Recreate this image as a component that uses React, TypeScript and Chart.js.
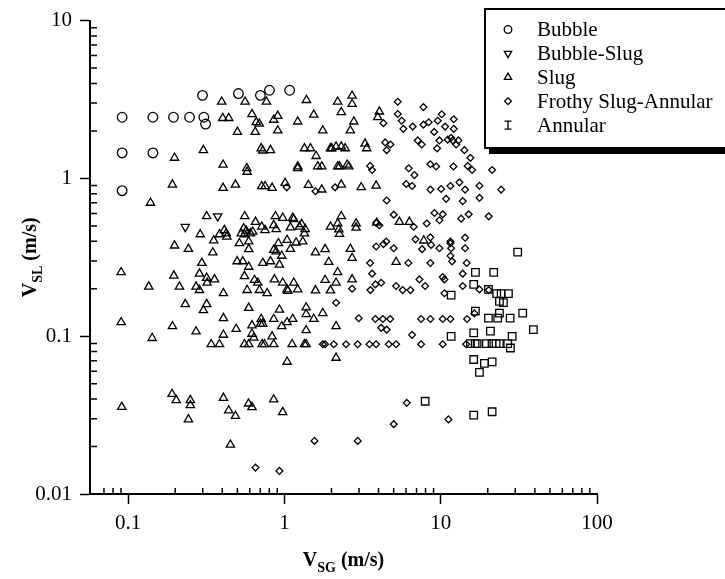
import React, { useEffect, useRef } from 'react';
import { Chart, registerables } from 'chart.js';

Chart.register(...registerables);

const SERIF = "'Liberation Serif', 'Times New Roman', serif";

// ---- series names and legend symbols ----
const seriesNames = ['Bubble', 'Bubble-Slug', 'Slug', 'Frothy Slug-Annular', 'Annular'];
const legendSymbols = ['circle', 'triangleDown', 'triangle', 'diamond', 'ibeam'];

// ---- axis ranges / tick labels ----
const xMin = 0.057;
const xMax = 100;
const yMin = 0.01;
const yMax = 10;
const xMajor = [0.1, 1, 10, 100];
const xMajorLabels = ['0.1', '1', '10', '100'];
const yMajor = [0.01, 0.1, 1, 10];
const yMajorLabels = ['0.01', '0.1', '1', '10'];

// ---- data: superficial gas velocity (VSG) and liquid velocity (VSL), m/s ----
const bubbleVsg = [0.0915, 0.144, 0.195, 0.247, 0.305, 0.313, 0.299, 0.508, 0.702, 0.802, 1.08, 0.0915, 0.144, 0.0915];
const bubbleVsl = [2.44, 2.44, 2.44, 2.44, 2.44, 2.21, 3.36, 3.45, 3.36, 3.62, 3.62, 1.45, 1.45, 0.836];

const bubbleSlugVsg = [0.232, 0.374];
const bubbleSlugVsl = [0.493, 0.575];

const slugVsg = [
  0.397, 0.56, 0.767, 1.383, 0.403, 0.44, 0.62, 0.66, 0.69, 0.854,
  0.906, 1.216, 0.5, 0.65, 0.906, 0.303, 0.71, 0.727, 0.814, 1.343,
  0.198, 0.405, 0.574, 0.577, 1.216, 1.216, 0.192, 0.405, 0.486, 0.716,
  0.752, 0.834, 1.01, 1.424, 0.139, 2.19, 2.71, 2.71, 1.54, 2.31,
  1.76, 2.78, 2.64, 4.05, 3.95, 1.467, 1.595, 1.97, 2.01, 2.14,
  2.31, 2.445, 3.28, 3.36, 1.633, 1.733, 2.19, 2.25, 2.52, 2.58,
  1.733, 2.31, 3.1, 3.86, 0.318, 0.557, 0.653, 0.716, 0.752, 0.876,
  0.854, 0.885, 0.975, 1.13, 1.147, 1.29, 1.092, 1.247, 1.357, 1.343,
  0.413, 0.424, 0.384, 0.428, 0.289, 0.549, 0.569, 0.529, 0.555, 0.606,
  0.627, 0.515, 0.591, 0.591, 0.353, 0.198, 0.243, 0.348, 0.915, 0.854,
  0.885, 0.961, 1.04, 1.092, 1.188, 1.31, 0.296, 0.498, 0.541, 0.591,
  0.727, 0.814, 0.929, 0.0902, 0.196, 0.286, 0.318, 0.32, 0.357, 0.555,
  0.643, 0.675, 0.863, 0.975, 1.05, 1.04, 1.147, 1.216, 0.1355, 0.213,
  0.272, 0.286, 0.407, 0.577, 0.692, 0.775, 0.232, 0.318, 0.303, 0.591,
  0.929, 1.377, 1.377, 0.0902, 0.192, 0.272, 0.407, 0.491, 0.62, 0.71,
  0.702, 0.727, 0.854, 0.961, 1.04, 1.13, 1.377, 0.1425, 0.407, 0.62,
  0.637, 0.834, 0.34, 0.384, 0.555, 0.591, 0.72, 0.745, 0.854, 1.12,
  1.343, 1.377, 1.04, 2.31, 2.19, 1.97, 2.23, 2.25, 2.875, 2.875,
  3.895, 5.44, 6.3, 1.58, 1.82, 1.92, 2.64, 2.71, 5.185, 7.785,
  2.19, 1.82, 2.14, 2.71, 1.58, 1.97, 1.54, 1.76, 2.14, 2.14,
  0.091, 0.191, 0.203, 0.25, 0.25, 0.243, 0.407, 0.44, 0.486, 0.451,
  0.589, 0.62, 0.854, 0.975,
];
const slugVsl = [
  3.06, 3.06, 3.06, 3.135, 2.41, 2.41, 2.55, 2.27, 2.22, 2.35,
  2.49, 2.29, 1.97, 1.97, 2.01, 1.51, 1.55, 1.5, 1.51, 1.55,
  1.35, 1.22, 1.16, 1.1, 1.19, 1.16, 0.912, 0.87, 0.912, 0.891,
  0.891, 0.87, 0.935, 0.908, 0.7, 3.06, 3.34, 2.96, 2.53, 2.63,
  2.01, 2.29, 2.01, 2.65, 2.44, 1.55, 1.385, 1.55, 1.55, 1.59,
  1.59, 1.55, 1.66, 1.55, 1.19, 1.19, 1.19, 1.19, 1.22, 1.19,
  0.849, 0.912, 0.878, 0.899, 0.575, 0.575, 0.53, 0.494, 0.47, 0.575,
  0.505, 0.477, 0.562, 0.562, 0.551, 0.513, 0.489, 0.494, 0.477, 0.448,
  0.47, 0.448, 0.442, 0.427, 0.442, 0.482, 0.466, 0.448, 0.442, 0.448,
  0.459, 0.388, 0.398, 0.356, 0.404, 0.375, 0.357, 0.339, 0.388, 0.352,
  0.344, 0.323, 0.407, 0.357, 0.392, 0.398, 0.291, 0.298, 0.298, 0.275,
  0.291, 0.298, 0.284, 0.254, 0.242, 0.249, 0.234, 0.218, 0.229, 0.24,
  0.227, 0.218, 0.229, 0.218, 0.1935, 0.198, 0.218, 0.198, 0.206, 0.206,
  0.206, 0.196, 0.187, 0.196, 0.196, 0.187, 0.1595, 0.1595, 0.146, 0.151,
  0.147, 0.152, 0.138, 0.1225, 0.1156, 0.107, 0.13, 0.111, 0.117, 0.1285,
  0.1196, 0.1196, 0.1285, 0.1156, 0.1225, 0.1285, 0.109, 0.0973, 0.102, 0.1035,
  0.0977, 0.0997, 0.0889, 0.0889, 0.0889, 0.0889, 0.0889, 0.0889, 0.0889, 0.0889,
  0.0889, 0.0889, 0.0688, 0.575, 0.518, 0.494, 0.475, 0.444, 0.518, 0.487,
  0.523, 0.53, 0.53, 0.339, 0.356, 0.295, 0.357, 0.313, 0.295, 0.4035,
  0.254, 0.227, 0.218, 0.229, 0.195, 0.195, 0.1285, 0.14, 0.1156, 0.0729,
  0.0356, 0.043, 0.0393, 0.0393, 0.0365, 0.0297, 0.0406, 0.0338, 0.0312, 0.0205,
  0.0374, 0.0355, 0.0397, 0.033,
];

const frothyVsg = [
  1.034, 5.31, 7.75, 5.31, 4.3, 5.63, 5.77, 6.62, 7.75, 8.38,
  9.57, 10.15, 12.11, 9.08, 10.67, 12.11, 4.41, 4.77, 4.51, 7.13,
  7.56, 9.81, 9.48, 11.09, 11.66, 11.94, 12.55, 12.98, 14.18, 15.49,
  3.535, 3.64, 6.24, 6.79, 8.59, 9.35, 12.06, 14.88, 15.88, 21.33,
  2.11, 1.58, 6.01, 6.56, 8.59, 10.06, 11.54, 13.17, 14.32, 17.69,
  4.51, 10.83, 13.83, 17.69, 24.35, 10.3, 9.81, 13.51, 15.1, 20.28,
  11.54, 14.32, 5.005, 6.72, 3.86, 4.05, 8.14, 9.12, 3.86, 4.3,
  4.48, 5.005, 6.89, 7.6, 8.59, 8.68, 9.81, 11.54, 11.66, 11.54,
  14.32, 11.83, 14.67, 3.535, 6.21, 8.59, 3.64, 7.31, 7.95, 10.3,
  10.56, 13.83, 13.83, 17.69, 2.71, 3.55, 3.82, 4.16, 5.185, 5.71,
  6.4, 10.56, 2.14, 2.99, 3.82, 4.26, 4.75, 7.49, 8.59, 10.3,
  11.54, 14.75, 16.43, 4.16, 4.51, 6.56, 1.76, 1.82, 2.07, 2.48,
  2.94, 3.5, 3.86, 4.65, 5.185, 7.49, 10.3, 14.54, 20.28, 11.2,
  0.6525, 0.929, 1.556, 2.944, 6.06, 5.005,
];
const frothyVsl = [
  0.878, 3.06, 2.83, 2.56, 2.24, 2.32, 2.06, 2.13, 2.19, 2.27,
  2.32, 2.55, 2.37, 1.97, 2.13, 2.06, 1.69, 1.64, 1.51, 1.74,
  1.64, 1.74, 1.55, 1.76, 1.81, 1.74, 1.64, 1.74, 1.51, 1.35,
  1.2, 1.13, 1.16, 1.05, 1.23, 1.19, 1.19, 1.2, 1.13, 1.13,
  0.878, 0.829, 0.921, 0.895, 0.849, 0.857, 0.895, 0.944, 0.849, 0.899,
  0.724, 0.742, 0.718, 0.753, 0.849, 0.592, 0.543, 0.556, 0.592, 0.575,
  0.398, 0.421, 0.589, 0.494, 0.523, 0.505, 0.518, 0.604, 0.37, 0.383,
  0.398, 0.361, 0.411, 0.356, 0.423, 0.379, 0.361, 0.388, 0.361, 0.323,
  0.361, 0.298, 0.291, 0.291, 0.291, 0.291, 0.249, 0.229, 0.208, 0.237,
  0.229, 0.249, 0.208, 0.198, 0.2, 0.196, 0.213, 0.218, 0.208, 0.196,
  0.196, 0.187, 0.163, 0.13, 0.1285, 0.1285, 0.1285, 0.1285, 0.1285, 0.1285,
  0.1285, 0.1285, 0.1395, 0.113, 0.11, 0.102, 0.0889, 0.0889, 0.0889, 0.0889,
  0.0889, 0.0889, 0.0889, 0.0889, 0.0889, 0.0889, 0.0889, 0.0889, 0.196, 0.0297,
  0.0147, 0.014, 0.0217, 0.0217, 0.0378, 0.0277,
];

const annularVsg = [
  31.09, 16.67, 21.83, 16.26, 20.2, 11.66, 22.82, 24.35, 27.12, 25.19,
  23.75, 16.67, 23.75, 33.47, 20.2, 23.16, 27.8, 39.18, 16.26, 20.8,
  28.64, 11.66, 15.5, 16.6, 17.1, 19.6, 21.3, 22.6, 23.75, 26.84,
  27.93, 16.26, 19.04, 21.33, 17.69, 16.26, 21.33, 7.95,
];
const annularVsl = [
  0.341, 0.254, 0.254, 0.213, 0.198, 0.182, 0.186, 0.186, 0.186, 0.163,
  0.166, 0.144, 0.14, 0.14, 0.13, 0.13, 0.13, 0.11, 0.105, 0.1076,
  0.0997, 0.0997, 0.0897, 0.0897, 0.0897, 0.0897, 0.0897, 0.0897, 0.0897, 0.0897,
  0.0842, 0.0712, 0.0672, 0.0688, 0.059, 0.0316, 0.0332, 0.0387,
];

function zip(xs: number[], ys: number[]) {
  return xs.map((x, i) => ({ x, y: ys[i] }));
}

function logTicks(min: number, max: number) {
  const out: number[] = [];
  for (let e = -3; e <= 3; e++) {
    for (let m = 1; m <= 9; m++) {
      const v = parseFloat((m * Math.pow(10, e)).toPrecision(6));
      if (v >= min * (1 - 1e-9) && v <= max * (1 + 1e-9)) out.push(v);
    }
  }
  return out;
}

function majorIndex(v: number, majors: number[]) {
  return majors.findIndex((m) => Math.abs(m - v) / m < 1e-6);
}

type Part = { t: string; f: string; dy: number };

function drawRich(ctx: CanvasRenderingContext2D, parts: Part[], cx: number) {
  let total = 0;
  const widths = parts.map((p) => {
    ctx.font = p.f;
    const w = ctx.measureText(p.t).width;
    total += w;
    return w;
  });
  let x = cx - total / 2;
  parts.forEach((p, i) => {
    ctx.font = p.f;
    ctx.fillText(p.t, x, p.dy);
    x += widths[i];
  });
}

function drawSymbol(ctx: CanvasRenderingContext2D, kind: string, x: number, y: number) {
  ctx.beginPath();
  if (kind === 'circle') {
    ctx.arc(x, y, 3.8, 0, Math.PI * 2);
  } else if (kind === 'triangle' || kind === 'triangleDown') {
    const r = 4.2;
    const s = kind === 'triangle' ? 1 : -1;
    ctx.moveTo(x, y - s * r);
    ctx.lineTo(x + r * 0.866, y + s * r * 0.5);
    ctx.lineTo(x - r * 0.866, y + s * r * 0.5);
    ctx.closePath();
  } else if (kind === 'diamond') {
    const r = 3.4;
    ctx.moveTo(x, y - r);
    ctx.lineTo(x + r, y);
    ctx.lineTo(x, y + r);
    ctx.lineTo(x - r, y);
    ctx.closePath();
  } else if (kind === 'ibeam') {
    ctx.moveTo(x - 3.5, y - 4);
    ctx.lineTo(x + 3.5, y - 4);
    ctx.moveTo(x, y - 4);
    ctx.lineTo(x, y + 4);
    ctx.moveTo(x - 3.5, y + 4);
    ctx.lineTo(x + 3.5, y + 4);
  }
  ctx.stroke();
}

const decorPlugin = {
  id: 'decor',
  afterDraw(chart: any) {
    const ctx: CanvasRenderingContext2D = chart.ctx;
    const area = chart.chartArea;
    const xs = chart.scales.x;
    const ys = chart.scales.y;
    ctx.save();
    // inward minor ticks
    ctx.strokeStyle = '#000';
    ctx.lineWidth = 1.5;
    ctx.beginPath();
    for (const t of xs.ticks) {
      if (majorIndex(t.value, xMajor) >= 0) continue;
      const px = xs.getPixelForValue(t.value);
      if (px < area.left + 6) continue;
      ctx.moveTo(px, area.bottom);
      ctx.lineTo(px, area.bottom - 6);
    }
    for (const t of ys.ticks) {
      if (majorIndex(t.value, yMajor) >= 0) continue;
      const py = ys.getPixelForValue(t.value);
      ctx.moveTo(area.left, py);
      ctx.lineTo(area.left + 7, py);
    }
    ctx.stroke();

    // axis titles with subscripts
    ctx.fillStyle = '#000';
    ctx.textBaseline = 'alphabetic';
    ctx.textAlign = 'left';
    const big = `bold 20px ${SERIF}`;
    const small = `bold 14px ${SERIF}`;
    ctx.save();
    ctx.translate(0, area.bottom + 72);
    drawRich(ctx, [
      { t: 'V', f: big, dy: 0 },
      { t: 'SG', f: small, dy: 6 },
      { t: ' (m/s)', f: big, dy: 0 },
    ], (area.left + area.right) / 2);
    ctx.restore();
    ctx.save();
    ctx.translate(36, (area.top + area.bottom) / 2);
    ctx.rotate(-Math.PI / 2);
    drawRich(ctx, [
      { t: 'V', f: big, dy: 0 },
      { t: 'SL', f: small, dy: 6 },
      { t: ' (m/s)', f: big, dy: 0 },
    ], 0);
    ctx.restore();

    // legend box with drop shadow
    const bx = 484;
    const by = 8;
    const bw = 250;
    const bh = 140;
    ctx.fillStyle = '#000';
    ctx.fillRect(bx + 5, by + 5, bw, bh + 1);
    ctx.fillStyle = '#fff';
    ctx.fillRect(bx, by, bw, bh);
    ctx.strokeStyle = '#000';
    ctx.lineWidth = 2;
    ctx.strokeRect(bx + 1, by + 1, bw, bh - 1);
    ctx.lineWidth = 1.3;
    ctx.font = `21px ${SERIF}`;
    ctx.fillStyle = '#000';
    chart.data.datasets.forEach((ds: any, i: number) => {
      const base = 36 + i * 23.9;
      drawSymbol(ctx, legendSymbols[i], 508, base - 6.5);
      ctx.fillText(ds.label, 537, base);
    });
    ctx.restore();
  },
};

export default function App() {
  const ref = useRef<HTMLCanvasElement | null>(null);

  useEffect(() => {
    if (!ref.current) return;
    const common = {
      borderColor: '#000',
      backgroundColor: 'rgba(0,0,0,0)',
      pointBorderWidth: 1.3,
      showLine: false,
    };
    const tickFont = { family: SERIF, size: 21 };
    const chart = new Chart(ref.current, {
      type: 'scatter',
      data: {
        datasets: [
          { ...common, label: seriesNames[0], data: zip(bubbleVsg, bubbleVsl), pointStyle: 'circle', pointRadius: 4.8 },
          { ...common, label: seriesNames[1], data: zip(bubbleSlugVsg, bubbleSlugVsl), pointStyle: 'triangle', pointRotation: 180, pointRadius: 4.8 },
          { ...common, label: seriesNames[2], data: zip(slugVsg, slugVsl), pointStyle: 'triangle', pointRadius: 4.8 },
          { ...common, label: seriesNames[3], data: zip(frothyVsg, frothyVsl), pointStyle: 'rectRot', pointRadius: 3.4 },
          { ...common, label: seriesNames[4], data: zip(annularVsg, annularVsl), pointStyle: 'rect', pointRadius: 5.3 },
        ],
      },
      options: {
        animation: false,
        responsive: false,
        devicePixelRatio: 1,
        layout: { padding: { left: 0, top: 15, right: 128, bottom: 0 } },
        plugins: { legend: { display: false }, tooltip: { enabled: false } },
        scales: {
          x: {
            type: 'logarithmic',
            position: 'bottom',
            min: xMin,
            max: xMax,
            afterBuildTicks: (s: any) => {
              s.ticks = logTicks(xMin, xMax).map((v) => ({ value: v }));
            },
            afterFit: (s: any) => {
              s.height = 85;
            },
            ticks: {
              autoSkip: false,
              maxRotation: 0,
              padding: 7,
              color: '#000',
              font: tickFont,
              callback: (v: any) => {
                const i = majorIndex(Number(v), xMajor);
                return i >= 0 ? xMajorLabels[i] : '';
              },
            },
            grid: {
              drawOnChartArea: false,
              drawTicks: true,
              tickLength: 10,
              tickWidth: 1.5,
              tickColor: (c: any) => (c.tick && majorIndex(c.tick.value, xMajor) >= 0 ? '#000' : 'rgba(0,0,0,0)'),
            },
            border: { display: true, color: '#000', width: 2 },
          },
          y: {
            type: 'logarithmic',
            position: 'left',
            min: yMin,
            max: yMax,
            afterBuildTicks: (s: any) => {
              s.ticks = logTicks(yMin, yMax).map((v) => ({ value: v }));
            },
            afterFit: (s: any) => {
              s.width = 90;
            },
            ticks: {
              autoSkip: false,
              padding: 8,
              color: '#000',
              font: tickFont,
              callback: (v: any) => {
                const i = majorIndex(Number(v), yMajor);
                return i >= 0 ? yMajorLabels[i] : '';
              },
            },
            grid: {
              drawOnChartArea: false,
              drawTicks: true,
              tickLength: 10,
              tickWidth: 1.5,
              tickColor: (c: any) => (c.tick && majorIndex(c.tick.value, yMajor) >= 0 ? '#000' : 'rgba(0,0,0,0)'),
            },
            border: { display: true, color: '#000', width: 2 },
          },
        },
      } as any,
      plugins: [decorPlugin],
    });
    return () => chart.destroy();
  }, []);

  return (
    <div style={{ position: 'absolute', left: 0, top: 0, width: 725, height: 579, background: '#fff' }}>
      <canvas ref={ref} width={725} height={579} style={{ display: 'block', width: 725, height: 579 }} />
    </div>
  );
}
